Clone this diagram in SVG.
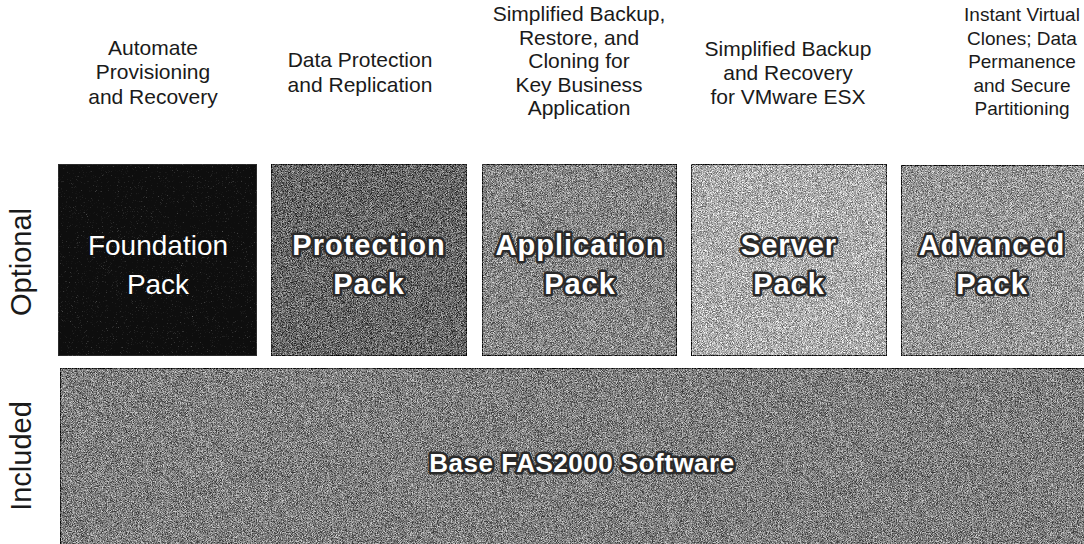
<svg xmlns="http://www.w3.org/2000/svg" width="1084" height="544" viewBox="0 0 1084 544">
<defs>
  <filter id="grain" x="0" y="0" width="100%" height="100%" color-interpolation-filters="sRGB">
    <feTurbulence type="fractalNoise" baseFrequency="1.2" numOctaves="2" seed="7" result="n"/>
    <feColorMatrix in="n" type="matrix" values="0.33 0.33 0.33 0 0  0.33 0.33 0.33 0 0  0.33 0.33 0.33 0 0  0 0 0 0 1" result="g"/>
    <feComponentTransfer in="g" result="gc">
      <feFuncR type="linear" slope="4" intercept="-1.5"/>
      <feFuncG type="linear" slope="4" intercept="-1.5"/>
      <feFuncB type="linear" slope="4" intercept="-1.5"/>
    </feComponentTransfer>
    <feComposite in="SourceGraphic" in2="gc" operator="arithmetic" k1="0" k2="1" k3="0.6" k4="-0.3"/>
  </filter>
  <filter id="grainLight" x="0" y="0" width="100%" height="100%" color-interpolation-filters="sRGB">
    <feTurbulence type="fractalNoise" baseFrequency="1.2" numOctaves="2" seed="3" result="n"/>
    <feColorMatrix in="n" type="matrix" values="0.33 0.33 0.33 0 0  0.33 0.33 0.33 0 0  0.33 0.33 0.33 0 0  0 0 0 0 1" result="g"/>
    <feComponentTransfer in="g" result="gc">
      <feFuncR type="linear" slope="4" intercept="-2.3"/>
      <feFuncG type="linear" slope="4" intercept="-2.3"/>
      <feFuncB type="linear" slope="4" intercept="-2.3"/>
    </feComponentTransfer>
    <feComposite in="SourceGraphic" in2="gc" operator="arithmetic" k1="0" k2="1" k3="0.35" k4="0"/>
  </filter>
</defs>
<style>
  .hdr { font-family: "Liberation Sans", Arial, sans-serif; font-size: 21px; fill: #1a1a1a; text-anchor: middle; }
  .hdr5 { font-size: 19px; }
  .side { font-family: "Liberation Sans", Arial, sans-serif; font-size: 29px; fill: #1a1a1a; text-anchor: middle; }
  .box { stroke: #2a2a2a; stroke-width: 2; }
  .lbl { font-family: "Liberation Sans", Arial, sans-serif; font-size: 29px; font-weight: bold; letter-spacing: 1px; fill: #ffffff; stroke: #2a2a2a; stroke-width: 5; stroke-linejoin: round; paint-order: stroke; text-anchor: middle; }
  .lblPlain { font-family: "Liberation Sans", Arial, sans-serif; font-size: 28px; fill: #ffffff; text-anchor: middle; }
</style>
<rect width="1084" height="544" fill="#ffffff"/>

<g id="headers">
  <text class="hdr" x="153" y="55">Automate</text>
  <text class="hdr" x="153" y="79">Provisioning</text>
  <text class="hdr" x="153" y="104">and Recovery</text>

  <text class="hdr" x="360" y="67">Data Protection</text>
  <text class="hdr" x="360" y="92">and Replication</text>

  <text class="hdr" x="579" y="21">Simplified Backup,</text>
  <text class="hdr" x="579" y="45">Restore, and</text>
  <text class="hdr" x="579" y="68">Cloning for</text>
  <text class="hdr" x="579" y="92">Key Business</text>
  <text class="hdr" x="579" y="115">Application</text>

  <text class="hdr" x="788" y="56">Simplified Backup</text>
  <text class="hdr" x="788" y="80">and Recovery</text>
  <text class="hdr" x="788" y="104">for VMware ESX</text>

  <text class="hdr hdr5" x="1022" y="21">Instant Virtual</text>
  <text class="hdr hdr5" x="1022" y="45">Clones; Data</text>
  <text class="hdr hdr5" x="1022" y="68">Permanence</text>
  <text class="hdr hdr5" x="1022" y="92">and Secure</text>
  <text class="hdr hdr5" x="1022" y="115">Partitioning</text>
</g>

<g id="side-labels">
  <text class="side" transform="translate(31,262) rotate(-90)">Optional</text>
  <text class="side" transform="translate(31,456) rotate(-90)">Included</text>
</g>

<g id="foundation-pack">
  <rect class="box" x="58" y="164" width="199" height="192" fill="#0e0e0e" filter="url(#grainLight)"/>
  <text class="lblPlain" x="158" y="255">Foundation</text>
  <text class="lblPlain" x="158" y="294">Pack</text>
</g>

<g id="protection-pack">
  <rect class="box" x="271" y="164" width="196" height="192" fill="#6a6a6a" filter="url(#grain)"/>
  <text class="lbl" x="369" y="255">Protection</text>
  <text class="lbl" x="369" y="294">Pack</text>
</g>

<g id="application-pack">
  <rect class="box" x="482" y="164" width="195" height="192" fill="#8a8a8a" filter="url(#grain)"/>
  <text class="lbl" x="580" y="255">Application</text>
  <text class="lbl" x="580" y="294">Pack</text>
</g>

<g id="server-pack">
  <rect class="box" x="691" y="164" width="196" height="192" fill="#b0b0b0" filter="url(#grain)"/>
  <text class="lbl" x="789" y="255">Server</text>
  <text class="lbl" x="789" y="294">Pack</text>
</g>

<g id="advanced-pack">
  <rect class="box" x="901" y="165" width="190" height="191" fill="#9a9a9a" filter="url(#grain)"/>
  <text class="lbl" x="992" y="255">Advanced</text>
  <text class="lbl" x="992" y="294">Pack</text>
</g>

<g id="base-software">
  <rect class="box" x="60" y="368" width="1030" height="184" fill="#828282" filter="url(#grain)"/>
  <text class="lbl" x="582" y="472" style="font-size:26px;letter-spacing:0.5px">Base FAS2000 Software</text>
</g>

<g id="connectors"></g>
</svg>
